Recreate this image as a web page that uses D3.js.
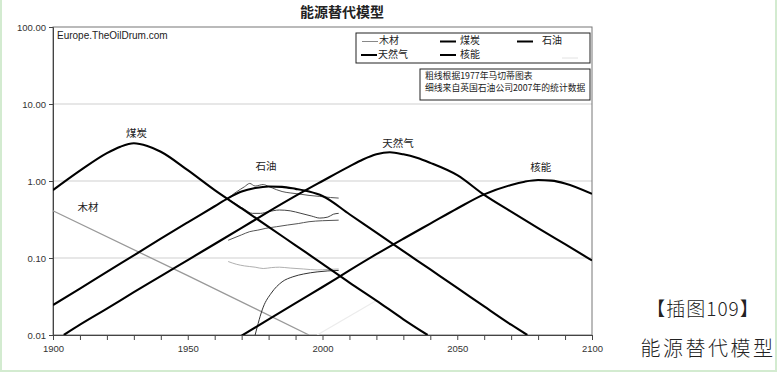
<!DOCTYPE html>
<html>
<head>
<meta charset="utf-8">
<script src="https://cdn.jsdelivr.net/npm/d3@7"></script>
<style>
  html, body { margin: 0; padding: 0; background: #fff; }
  svg { display: block; }
  .cn { font-family: "Noto Sans CJK SC", sans-serif; }
  .axis text { font-family: "Liberation Sans", Arial, sans-serif; font-size: 9.5px; fill: #333; }
</style>
</head>
<body>
<svg id="chart" width="778" height="374"></svg>
<script>
// Marchetti model curves (thick lines), [year, value]
const coal = [[1900, 0.76], [1910, 1.36], [1920, 2.3], [1925, 2.79], [1930, 3.09], [1935, 2.85], [1940, 2.4],
  [1950, 1.38], [1960, 0.76], [1970, 0.44], [1980, 0.254], [1990, 0.146], [2000, 0.084], [2010, 0.048],
  [2020, 0.028], [2030, 0.016], [2039, 0.01]];
const oil = [[1900, 0.0245], [1910, 0.04], [1920, 0.066], [1930, 0.108], [1940, 0.178], [1950, 0.29],
  [1960, 0.47], [1965, 0.6], [1970, 0.73], [1975, 0.81], [1980, 0.85], [1985, 0.84], [1990, 0.79],
  [1995, 0.73], [2000, 0.64], [2010, 0.37], [2020, 0.213], [2030, 0.123], [2040, 0.071], [2050, 0.041],
  [2060, 0.0235], [2070, 0.0136], [2076, 0.01]];
const gas = [[1904, 0.01], [1910, 0.0136], [1920, 0.022], [1930, 0.036], [1940, 0.058], [1950, 0.094],
  [1960, 0.152], [1970, 0.246], [1980, 0.4], [1990, 0.64], [2000, 1.0], [2010, 1.55], [2015, 1.9],
  [2020, 2.22], [2025, 2.36], [2030, 2.22], [2035, 2.0], [2040, 1.72], [2050, 1.19], [2060, 0.66],
  [2070, 0.4], [2080, 0.245], [2090, 0.151], [2100, 0.093]];
const nuclear = [[1970, 0.0098], [1980, 0.016], [1990, 0.026], [2000, 0.042], [2010, 0.069], [2020, 0.112],
  [2030, 0.178], [2040, 0.28], [2050, 0.44], [2060, 0.67], [2070, 0.89], [2075, 0.98], [2080, 1.03],
  [2085, 1.01], [2090, 0.93], [2100, 0.68]];
const wood = [[1900, 0.41], [1950, 0.059], [1995, 0.01]];
const faint = [[1998, 0.01], [2020, 0.028]];

// BP 2007 statistics (thin lines)
const oilData = [[1965, 0.6], [1968, 0.72], [1971, 0.84], [1973, 0.93], [1975, 0.86], [1978, 0.9],
  [1980, 0.85], [1983, 0.77], [1985, 0.73], [1988, 0.7], [1991, 0.68], [1995, 0.65], [1999, 0.63],
  [2003, 0.61], [2006, 0.6]];
const coalData = [[1965, 0.58], [1968, 0.5], [1971, 0.43], [1974, 0.38], [1977, 0.38], [1980, 0.4],
  [1984, 0.42], [1988, 0.41], [1992, 0.38], [1996, 0.35], [1999, 0.33], [2002, 0.34], [2004, 0.37],
  [2006, 0.38]];
const gasData = [[1965, 0.17], [1970, 0.2], [1973, 0.22], [1976, 0.23], [1979, 0.243], [1983, 0.255],
  [1987, 0.268], [1991, 0.28], [1995, 0.296], [2000, 0.305], [2006, 0.31]];
const nuclearData = [[1975, 0.01], [1978, 0.023], [1981, 0.035], [1985, 0.049], [1989, 0.057],
  [1993, 0.062], [1998, 0.066], [2002, 0.068], [2006, 0.069]];
const hydroData = [[1965, 0.09], [1968, 0.083], [1971, 0.079], [1975, 0.076], [1978, 0.073],
  [1981, 0.075], [1984, 0.076], [1988, 0.074], [1993, 0.072], [1998, 0.07], [2002, 0.071], [2006, 0.072]];

const yTicks = [0.01, 0.1, 1, 10, 100];
const xTicks = d3.range(1900, 2101, 10);

const labels = [
  { text: '煤炭', year: 1931, value: 4.1 },
  { text: '木材', year: 1913, value: 0.44 },
  { text: '石油', year: 1979, value: 1.5 },
  { text: '天然气', year: 2028, value: 3.0 },
  { text: '核能', year: 2081, value: 1.48 }
];

const svg = d3.select('#chart');
const x = d3.scaleLinear().domain([1900, 2100]).range([53, 592]);
const y = d3.scaleLog().domain([0.01, 100]).range([335, 27]);

// pale green page frame
svg.append('path')
  .attr('d', 'M1,0 V371 H776 V0')
  .attr('fill', 'none')
  .attr('stroke', '#d3ebd0')
  .attr('stroke-width', 2);

// title
svg.append('text').attr('class', 'cn')
  .attr('x', 342).attr('y', 16.5)
  .attr('text-anchor', 'middle')
  .style('font-size', '14px').style('font-weight', 'bold')
  .attr('fill', '#222')
  .text('能源替代模型');

// grid
svg.append('g').selectAll('line')
  .data([0.1, 1, 10])
  .enter().append('line')
  .attr('x1', x(1900)).attr('x2', x(2100))
  .attr('y1', d => y(d)).attr('y2', d => y(d))
  .attr('stroke', '#cfcfcf');

svg.append('rect')
  .attr('x', x(1900)).attr('y', y(100))
  .attr('width', x(2100) - x(1900)).attr('height', y(0.01) - y(100))
  .attr('fill', 'none').attr('stroke', '#777');

svg.append('g').attr('class', 'axis')
  .attr('transform', `translate(0,${y(0.01)})`)
  .call(d3.axisBottom(x).tickValues(xTicks).tickFormat(d => d % 50 === 0 ? d : '').tickSize(5).tickPadding(5))
  .call(g => g.selectAll('line, path').attr('stroke', '#444'));

svg.append('g').attr('class', 'axis')
  .attr('transform', `translate(${x(1900)},0)`)
  .call(d3.axisLeft(y).tickValues(yTicks).tickFormat(d3.format('.2f')).tickSize(4).tickPadding(3))
  .call(g => g.selectAll('line, path').attr('stroke', '#444'));

svg.append('clipPath').attr('id', 'plot')
  .append('rect')
  .attr('x', x(1900)).attr('y', y(100))
  .attr('width', x(2100) - x(1900)).attr('height', y(0.01) - y(100));

const line = d3.line()
  .x(d => x(d[0]))
  .y(d => y(d[1]))
  .curve(d3.curveMonotoneX);

const plot = svg.append('g').attr('clip-path', 'url(#plot)');

const series = [
  { data: faint, color: '#ececec', width: 1.2 },
  { data: hydroData, color: '#b0b0b0', width: 1 },
  { data: wood, color: '#999', width: 1.3 },
  { data: coalData, color: '#444', width: 1 },
  { data: gasData, color: '#555', width: 1 },
  { data: oilData, color: '#555', width: 1 },
  { data: nuclearData, color: '#333', width: 1 },
  { data: coal, color: '#000', width: 2.1 },
  { data: oil, color: '#000', width: 2.1 },
  { data: gas, color: '#000', width: 2.1 },
  { data: nuclear, color: '#000', width: 2.1 }
];

plot.selectAll('path')
  .data(series)
  .enter().append('path')
  .attr('d', d => line(d.data))
  .attr('fill', 'none')
  .attr('stroke', d => d.color)
  .attr('stroke-width', d => d.width)
  .attr('stroke-linejoin', 'round');

svg.append('g').selectAll('text')
  .data(labels)
  .enter().append('text')
  .attr('class', 'cn')
  .attr('x', d => x(d.year)).attr('y', d => y(d.value))
  .attr('text-anchor', 'middle')
  .attr('dominant-baseline', 'middle')
  .style('font-size', '10.5px')
  .attr('fill', '#222')
  .text(d => d.text);

svg.append('text')
  .attr('x', 57).attr('y', 38.5)
  .style('font-family', '"Liberation Sans", Arial, sans-serif')
  .style('font-size', '10px')
  .attr('fill', '#222')
  .text('Europe.TheOilDrum.com');

// legend
const legend = svg.append('g');
legend.append('rect')
  .attr('x', 356).attr('y', 33).attr('width', 234).attr('height', 30)
  .attr('fill', '#fff').attr('stroke', '#222');

const legendItems = [
  { text: '木材', lx: 362, tx: 379, ly: 41.5, color: '#888', width: 1 },
  { text: '煤炭', lx: 440, tx: 460, ly: 41.5, color: '#000', width: 2 },
  { text: '石油', lx: 517, tx: 542, ly: 41.5, color: '#000', width: 2 },
  { text: '天然气', lx: 361, tx: 378, ly: 55, color: '#000', width: 2 },
  { text: '核能', lx: 440, tx: 460, ly: 55, color: '#000', width: 2 },
  { text: '', lx: 562, tx: 578, ly: 58, color: '#e2e2e2', width: 1 }
];

const li = legend.selectAll('g.item')
  .data(legendItems)
  .enter().append('g').attr('class', 'item');
li.append('line')
  .attr('x1', d => d.lx).attr('x2', d => d.lx + 16)
  .attr('y1', d => d.ly).attr('y2', d => d.ly)
  .attr('stroke', d => d.color).attr('stroke-width', d => d.width);
li.append('text')
  .attr('class', 'cn')
  .attr('x', d => d.tx).attr('y', d => d.ly)
  .attr('dominant-baseline', 'middle')
  .style('font-size', '10px')
  .attr('fill', '#222')
  .text(d => d.text);

// note box
const note = svg.append('g');
note.append('rect')
  .attr('x', 420).attr('y', 69).attr('width', 170).attr('height', 31)
  .attr('fill', '#fff').attr('stroke', '#222');
note.selectAll('text')
  .data(['粗线根据1977年马切蒂图表', '细线来自英国石油公司2007年的统计数据'])
  .enter().append('text')
  .attr('class', 'cn')
  .attr('x', 425).attr('y', (d, i) => 77 + i * 11.7)
  .attr('dominant-baseline', 'middle')
  .style('font-size', '8.8px')
  .attr('fill', '#222')
  .text(d => d);

// right-side caption
svg.append('text').attr('class', 'cn')
  .attr('x', 703).attr('y', 311)
  .attr('text-anchor', 'middle').attr('dominant-baseline', 'middle')
  .style('font-size', '19px').style('font-weight', 300).style('letter-spacing', '1px')
  .attr('fill', '#222')
  .text('【插图109】');
svg.append('text').attr('class', 'cn')
  .attr('x', 708).attr('y', 351)
  .attr('text-anchor', 'middle').attr('dominant-baseline', 'middle')
  .style('font-size', '20px').style('font-weight', 300).style('letter-spacing', '2.5px')
  .attr('fill', '#222')
  .text('能源替代模型');
</script>
</body>
</html>
